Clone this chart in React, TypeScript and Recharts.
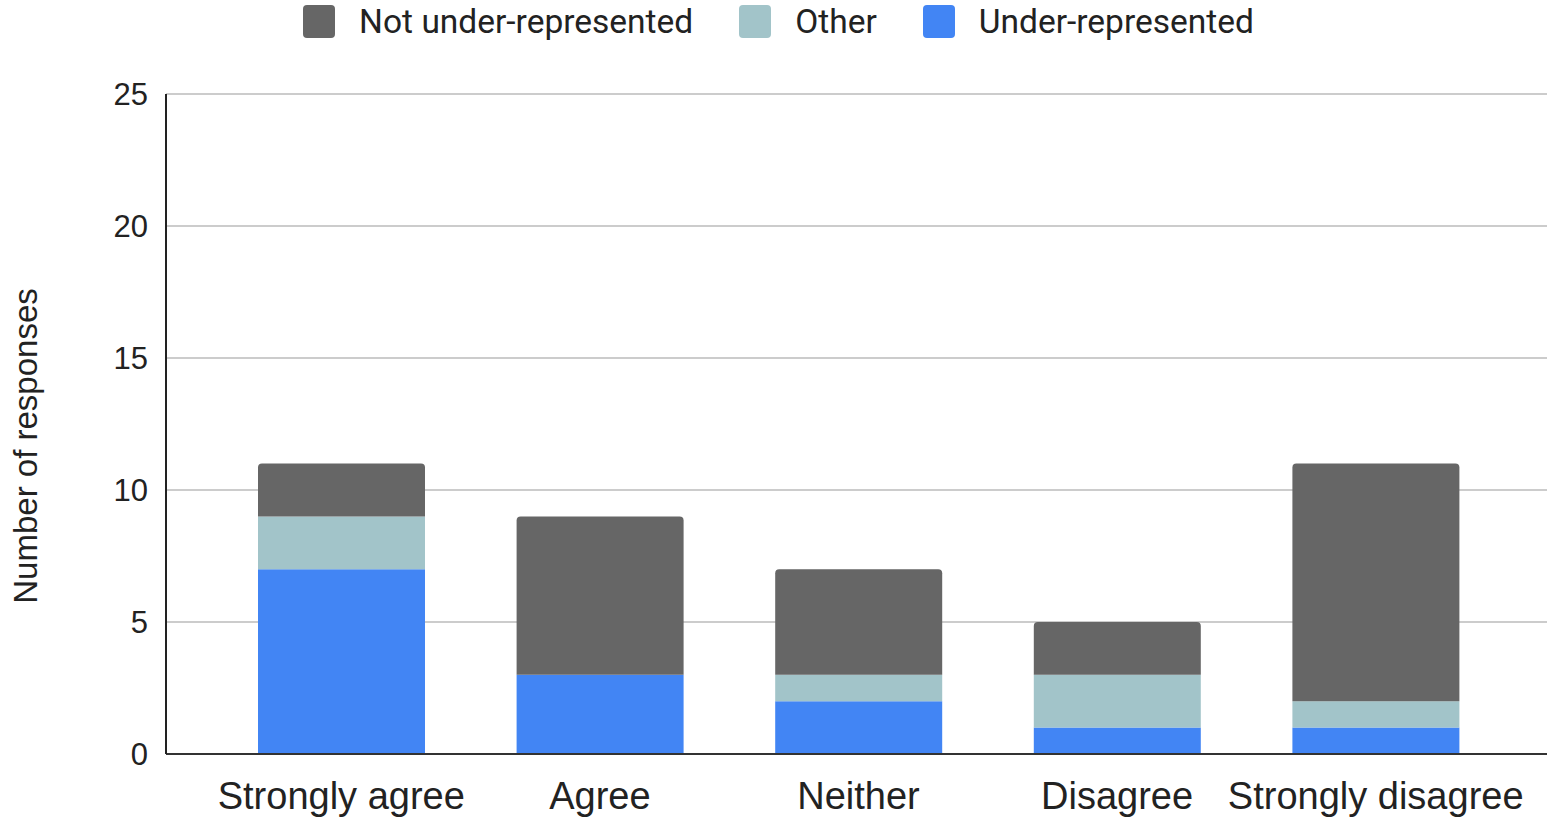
import { Bar, BarChart, CartesianGrid, XAxis, YAxis, Label } from "recharts";

const categories = ["Strongly agree", "Agree", "Neither", "Disagree", "Strongly disagree"];
const underRepresented = [7, 3, 2, 1, 1];
const other = [2, 0, 1, 2, 1];
const notUnderRepresented = [2, 6, 4, 2, 9];
const yTicks = [0, 5, 10, 15, 20, 25];

const series = [
  { key: "under", name: "Under-represented", color: "#4285f4" },
  { key: "other", name: "Other", color: "#a2c4c9" },
  { key: "notUnder", name: "Not under-represented", color: "#666666" },
];

const data = categories.map((name, i) => ({
  name,
  under: underRepresented[i],
  other: other[i],
  notUnder: notUnderRepresented[i],
}));

const font = "'Liberation Sans', Arial, sans-serif";

function TopLegend() {
  // legend lists the series top-down, reverse of stacking order
  const items = [...series].reverse();
  return (
    <div
      style={{
        position: "absolute",
        left: 0,
        top: 0,
        width: 1557,
        height: 43,
        display: "flex",
        justifyContent: "center",
        alignItems: "center",
        gap: 46,
        fontFamily: "Roboto, sans-serif",
        fontSize: 33.5,
        color: "#222",
      }}
    >
      {items.map((s) => (
        <div key={s.key} style={{ display: "flex", alignItems: "center", gap: 24 }}>
          <span
            style={{
              display: "inline-block",
              width: 32,
              height: 33,
              borderRadius: 4,
              background: s.color,
            }}
          />
          <span>{s.name}</span>
        </div>
      ))}
    </div>
  );
}

export default function App() {
  return (
    <div style={{ position: "absolute", left: 0, top: 0, width: 1547, height: 819, background: "#fff" }}>
      <TopLegend />
      <BarChart
        width={1547}
        height={819}
        data={data}
        margin={{ top: 94, right: 0, bottom: 35, left: 0 }}
        barSize={167}
      >
        <CartesianGrid horizontal vertical={false} stroke="#cccccc" strokeWidth={2} />
        <XAxis
          dataKey="name"
          height={30}
          padding={{ left: 46, right: 42 }}
          tickLine={false}
          tickSize={0}
          tickMargin={28}
          axisLine={{ stroke: "#333", strokeWidth: 2 }}
          tick={{ fill: "#222", fontSize: 38, fontFamily: font }}
          interval={0}
        />
        <YAxis
          width={166}
          domain={[0, 25]}
          ticks={yTicks}
          tickLine={false}
          tickSize={0}
          tickMargin={18}
          axisLine={{ stroke: "#222", strokeWidth: 2 }}
          tick={{ fill: "#222", fontSize: 31, fontFamily: font }}
        >
          <Label
            content={({ viewBox }: any) => {
              // title sits a little below the plot's vertical middle
              const cy = viewBox.y + viewBox.height / 2 + 22;
              return (
                <text
                  x={37}
                  y={cy}
                  transform={`rotate(-90, 37, ${cy})`}
                  textAnchor="middle"
                  fill="#222"
                  fontSize={33}
                  fontFamily={font}
                >
                  Number of responses
                </text>
              );
            }}
          />
        </YAxis>
        <Bar dataKey="under" stackId="a" fill="#4285f4" isAnimationActive={false} />
        <Bar dataKey="other" stackId="a" fill="#a2c4c9" isAnimationActive={false} />
        <Bar dataKey="notUnder" stackId="a" fill="#666666" radius={[4, 4, 0, 0]} isAnimationActive={false} />
      </BarChart>
    </div>
  );
}
